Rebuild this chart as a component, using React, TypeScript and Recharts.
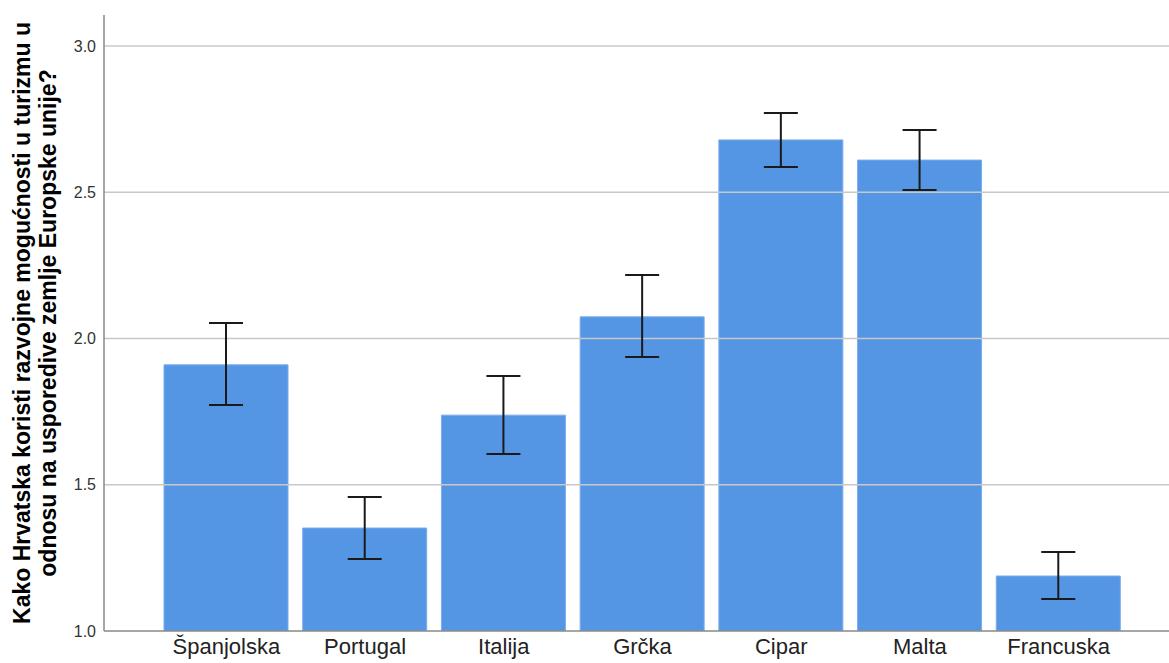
import { BarChart, Bar, XAxis, YAxis, ReferenceLine, ErrorBar } from "recharts";

// ─── Data ──────────────────────────────────────────────────────────────────

const countries = ["Španjolska", "Portugal", "Italija", "Grčka", "Cipar", "Malta", "Francuska"];
const means = [1.91, 1.352, 1.738, 2.074, 2.679, 2.61, 1.188];
const ciLow = [1.773, 1.246, 1.605, 1.937, 2.586, 2.508, 1.109];
const ciHigh = [2.053, 1.458, 1.872, 2.217, 2.771, 2.713, 1.27];
const yTicks = [1.0, 1.5, 2.0, 2.5, 3.0];

const yTitle = [
  "Kako Hrvatska koristi razvojne mogućnosti u turizmu u",
  "odnosu na usporedive zemlje Europske unije?",
];

const data = countries.map((name, i) => ({
  name,
  mean: means[i],
  err: [means[i] - ciLow[i], ciHigh[i] - means[i]],
}));

const FONT = "'Liberation Sans', Arial, sans-serif";

// ─── Y axis title (two rotated lines) ──────────────────────────────────────

function YTitle(props: { viewBox?: { x: number; y: number; width: number; height: number } }) {
  const vb = props.viewBox;
  if (!vb) return null;
  const cy = vb.y + vb.height / 2;
  return (
    <g>
      {yTitle.map((line, i) => {
        const x = 30 + i * 26;
        return (
          <text
            key={i}
            x={x}
            y={cy}
            transform={`rotate(-90, ${x}, ${cy})`}
            textAnchor="middle"
            fontFamily={FONT}
            fontWeight={700}
            fontSize={23}
            fill="#000"
          >
            {line}
          </text>
        );
      })}
    </g>
  );
}

export default function App() {
  return (
    <div style={{ position: "absolute", left: 0, top: 0, width: 1169, height: 663, background: "#fff" }}>
      <BarChart
        width={1169}
        height={663}
        data={data}
        margin={{ top: 15, right: 0, bottom: 0, left: 0 }}
        barSize={124}
      >
        {yTicks.slice(1).map((t) => (
          <ReferenceLine key={t} y={t} stroke="#c8c8c8" strokeWidth={1.5} />
        ))}
        <XAxis
          dataKey="name"
          height={32}
          padding={{ left: 53, right: 41 }}
          tickLine={false}
          axisLine={{ stroke: "#888", strokeWidth: 1.5 }}
          tick={{ fill: "#222", fontSize: 22, fontFamily: FONT }}
          tickMargin={1}
          interval={0}
        />
        <YAxis
          width={104}
          domain={[1, 3]}
          ticks={yTicks}
          allowDataOverflow
          padding={{ top: 31, bottom: 0 }}
          tickFormatter={(v: number) => v.toFixed(1)}
          tickLine={false}
          axisLine={{ stroke: "#888", strokeWidth: 1.5 }}
          tick={{ fill: "#333", fontSize: 16, fontFamily: FONT }}
          label={<YTitle />}
        />
        <Bar dataKey="mean" fill="#5596e4" stroke="#79adec" strokeWidth={1} isAnimationActive={false}>
          <ErrorBar dataKey="err" width={17} stroke="#1a1a1a" strokeWidth={2} direction="y" />
        </Bar>
      </BarChart>
    </div>
  );
}
